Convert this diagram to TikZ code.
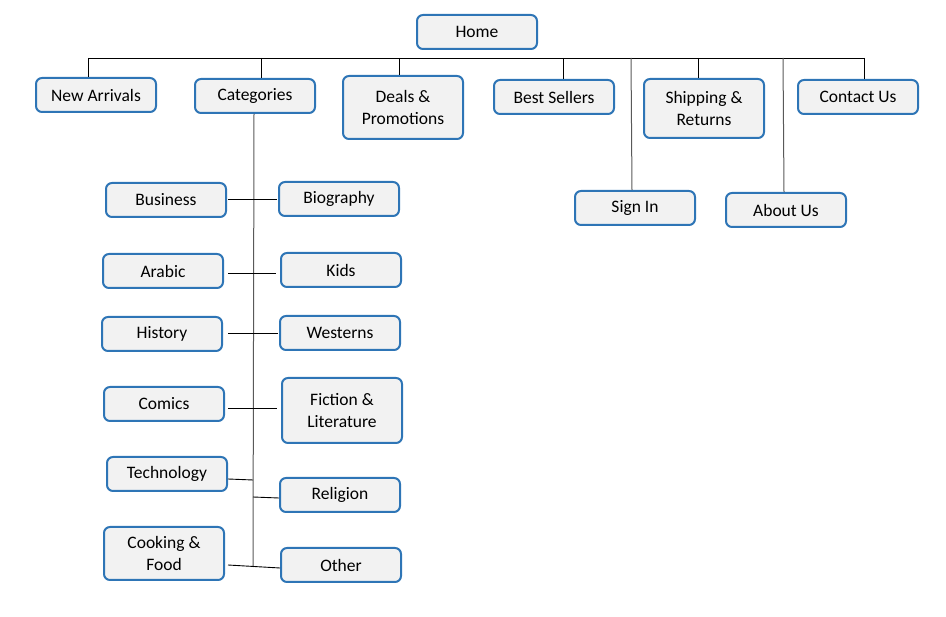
\documentclass[tikz,border=0pt]{standalone}
\usepackage{fontspec}
\setmainfont{Carlito}
\usetikzlibrary{calc}
\definecolor{boxblue}{HTML}{2E75B6}
\definecolor{boxfill}{HTML}{F2F2F2}
\begin{document}
\begin{tikzpicture}[x=1pt,y=-1pt,
  box/.style={draw=boxblue, line width=2pt, fill=boxfill, rounded corners=6pt,
    minimum width=120pt, minimum height=34pt, inner sep=1pt, align=center,
    font=\fontsize{17.5}{22}\selectfont},
  link/.style={draw=black, line width=0.9pt},
  glink/.style={draw=black!65, line width=1pt}]
\useasboundingbox (0,0) rectangle (946,617);
% top level
\node[box] (home) at (477,32) {Home};
\node[box] (na) at (96,95) {New Arrivals};
\node[box] (cat) at (255,96) {Categories};
\node[box, minimum height=63pt] (deals) at (403,107.5) {Deals \&\\Promotions};
\node[box] (best) at (554,97) {Best Sellers};
\node[box, minimum height=59pt] (ship) at (704,108.5) {Shipping \&\\Returns};
\node[box] (contact) at (858,97) {Contact Us};
\node[box] (signin) at (635,208) {Sign In};
\node[box] (about) at (786,210) {About Us};
% categories
\node[box] (business) at (166,200) {Business};
\node[box] (biography) at (339,199) {Biography};
\node[box] (arabic) at (163,271) {Arabic};
\node[box] (kids) at (341,270) {Kids};
\node[box] (history) at (162,334) {History};
\node[box] (westerns) at (340,333) {Westerns};
\node[box] (comics) at (164,404) {Comics};
\node[box, minimum height=65pt] (fiction) at (342,410.5) {Fiction \&\\Literature};
\node[box] (tech) at (167,474) {Technology};
\node[box] (religion) at (340,495) {Religion};
\node[box, minimum height=53pt] (cooking) at (164,553.5) {Cooking \&\\Food};
\node[box] (other) at (341,565) {Other};
% bus
\coordinate (busL) at (88,58);
\coordinate (busR) at (864,58);
\coordinate (dCat) at (261,58);
\coordinate (dDeals) at (399.5,58);
\coordinate (dBest) at (563,58);
\coordinate (dSign) at (631,58);
\coordinate (dShip) at (698,58);
\coordinate (dAbout) at (783,58);
\draw[link] (busL) -- (busR);
\draw[link] ($(home.south)+(-3,0)$) -- ($(home.south)+(-3,0)$ |- busL);
\draw[link] (busL) -- (busL |- na.north);
\draw[link] (dCat) -- (dCat |- cat.north);
\draw[link] (dDeals) -- (dDeals |- deals.north);
\draw[link] (dBest) -- (dBest |- best.north);
\draw[link] (dShip) -- (dShip |- ship.north);
\draw[link] (busR) -- (busR |- contact.north);
\draw[glink] (dSign) -- ($(signin.north)+(-3,0)$);
\draw[glink] (dAbout) -- ($(about.north)+(-2,0)$);
% trunk
\coordinate (trunkEnd) at (253,567);
\draw[glink] ($(cat.south)+(-1,0)$) -- (trunkEnd);
% side links
\draw[link] ($(business.east)+(1,-1)$) -- ($(biography.west)+(-1,0)$);
\draw[link] ($(arabic.east)+(4,2)$) -- ($(kids.west)+(-4,3)$);
\draw[link] ($(history.east)+(5,-1)$) -- ($(westerns.west)+(-1,0)$);
\draw[link] ($(comics.east)+(3,4)$) -- ($(fiction.west)+(-4,-2.5)$);
\draw[link] ($(tech.east)+(0,5)$) -- ($(tech.east -| trunkEnd)+(0,6)$);
\draw[link] ($(religion.west -| trunkEnd)+(0,2)$) -- ($(religion.west)+(0,3)$);
\draw[link] ($(cooking.east)+(3,11.5)$) -- ($(other.west)+(0,3)$);
\end{tikzpicture}
\end{document}
